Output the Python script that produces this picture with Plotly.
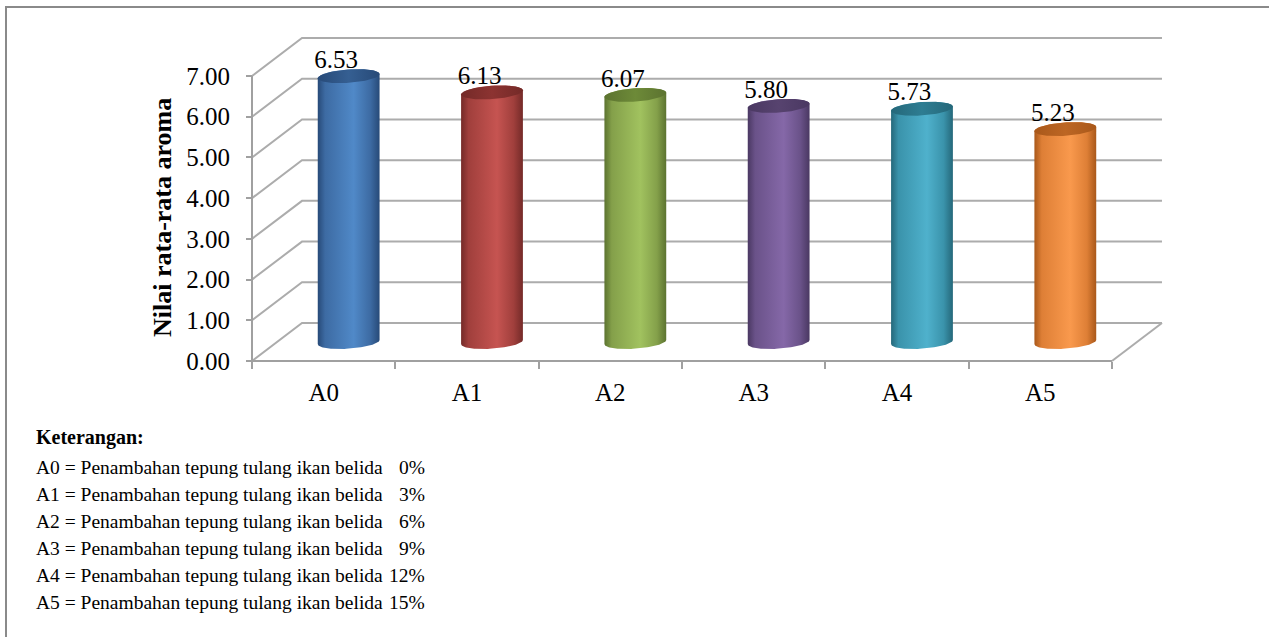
import numpy as np
import plotly.graph_objects as go

# ---- data -------------------------------------------------------------
categories = ["A0", "A1", "A2", "A3", "A4", "A5"]
aroma_means = [6.53, 6.13, 6.07, 5.80, 5.73, 5.23]
y_ticks = [0, 1, 2, 3, 4, 5, 6, 7]
additions = ["0%", "3%", "6%", "9%", "12%", "15%"]
note_text = "Penambahan tepung tulang ikan belida"
legend_title = "Keterangan:"
axis_title = "Nilai rata-rata aroma"

# cylinder shading per category: (edge, mid, highlight, cap)
palette = [
    ("#274a78", "#3d6ba3", "#5089c8", "#355f92"),
    ("#742a28", "#a03f3c", "#c65451", "#8c3331"),
    ("#5c7330", "#84a04a", "#a1c25f", "#6d8a38"),
    ("#4a3862", "#6a5289", "#8568a8", "#57436f"),
    ("#25687a", "#3a93ab", "#4fb1cc", "#2e7d92"),
    ("#a9581a", "#de7f36", "#f9994d", "#bc6624"),
]

FONT = "Liberation Serif, Times New Roman, serif"
GRID = "#acacac"

# ---- geometry of the oblique 3-D box (page pixels) ---------------------
W, H = 1269, 637
X0_PX, CAT_PX = 252.0, 143.33     # x = 0 on the front plane, width of one category
Y0_PX, UNIT_PX = 361.0, 40.71     # y = 0 on the front plane, pixels per unit
DEPTH_PX = (50.0, 38.0)           # shift from the front plane to the back wall

dx = DEPTH_PX[0] / CAT_PX
dy = DEPTH_PX[1] / UNIT_PX
n = len(categories)

x_range = [-X0_PX / CAT_PX, (W - X0_PX) / CAT_PX]
y_range = [-(H - Y0_PX) / UNIT_PX, Y0_PX / UNIT_PX]


def px(xp):
    return xp / W


def py(yp):
    return 1 - yp / H


fig = go.Figure()

# ---- walls and floor --------------------------------------------------
gx, gy = [], []
for t in y_ticks:
    gx += [0, dx, n + dx, None]
    gy += [t, t + dy, t + dy, None]
# right edge of the floor
gx += [n, n + dx, None]
gy += [0, dy, None]
fig.add_trace(go.Scatter(x=gx, y=gy, mode="lines", line=dict(color=GRID, width=2),
                         hoverinfo="skip", showlegend=False, cliponaxis=False))

# front axis lines
fig.add_trace(go.Scatter(x=[0, 0, None, 0, n], y=[y_ticks[-1], 0, None, 0, 0], mode="lines",
                         line=dict(color="#a0a0a0", width=2),
                         hoverinfo="skip", showlegend=False, cliponaxis=False))

# ---- cylinders --------------------------------------------------------
a = 29.5 / CAT_PX                 # half width
b = 9.2 / CAT_PX                  # depth shear of the end ellipses (x)
c = 7.0 / UNIT_PX                 # depth shear of the end ellipses (y)
th_max = np.arctan2(b, a)
th_min = th_max + np.pi


def ellipse(cx, cy, th):
    return cx + a * np.cos(th) + b * np.sin(th), cy + c * np.sin(th)


for i, (cat, v) in enumerate(zip(categories, aroma_means)):
    edge, mid, hi, cap = palette[i]
    cx = i + 0.5 + dx / 2
    base = dy / 2
    top = v + dy / 2

    front = np.linspace(th_min, th_max + 2 * np.pi, 60)
    back = np.linspace(th_max, th_min, 60)
    bx, by = ellipse(cx, base, front)
    tx, ty = ellipse(cx, top, back)
    fig.add_trace(go.Scatter(
        x=np.concatenate([bx, tx]), y=np.concatenate([by, ty]),
        mode="lines", fill="toself", line=dict(width=0),
        fillgradient=dict(type="horizontal",
                          colorscale=[[0, edge], [0.12, mid], [0.58, hi], [0.85, mid], [1, edge]]),
        hoverinfo="skip", showlegend=False, cliponaxis=False))

    full = np.linspace(0, 2 * np.pi, 90)
    kx, ky = ellipse(cx, top, full)
    fig.add_trace(go.Scatter(
        x=kx, y=ky, mode="lines", fill="toself", line=dict(width=0),
        fillgradient=dict(type="horizontal",
                          colorscale=[[0, edge], [0.5, cap], [1, edge]]),
        hoverinfo="skip", showlegend=False, cliponaxis=False))

# value labels above each cylinder
fig.add_trace(go.Scatter(
    x=[i + 0.5 + dx / 4 for i in range(n)],
    y=[v + dy / 2 + c - 5 / UNIT_PX for v in aroma_means],
    mode="text", text=[f"{v:.2f}" for v in aroma_means], textposition="top center",
    textfont=dict(family=FONT, size=25, color="black"),
    hoverinfo="skip", showlegend=False, cliponaxis=False))

# ---- annotations ------------------------------------------------------
annotations = [
    dict(x=px(162), y=py(218), xref="paper", yref="paper", text=f"<b>{axis_title}</b>",
         textangle=-90, showarrow=False, font=dict(family=FONT, size=26, color="black"),
         xanchor="center", yanchor="middle"),
    dict(x=px(34), y=py(438), xref="paper", yref="paper", text=f"<b>{legend_title}</b>",
         showarrow=False, font=dict(family=FONT, size=20, color="black"),
         xanchor="left", yanchor="middle"),
]
for k, (cat, pct) in enumerate(zip(categories, additions)):
    yy = py(467 + 27 * k)
    annotations.append(dict(x=px(34), y=yy, xref="paper", yref="paper",
                            text=f"{cat} = {note_text}", showarrow=False,
                            font=dict(family=FONT, size=19.5, color="black"),
                            xanchor="left", yanchor="middle"))
    annotations.append(dict(x=px(427), y=yy, xref="paper", yref="paper",
                            text=pct, showarrow=False,
                            font=dict(family=FONT, size=19.5, color="black"),
                            xanchor="right", yanchor="middle"))

fig.update_layout(
    template="none",
    width=W, height=H,
    margin=dict(l=0, r=0, t=0, b=0, pad=0),
    paper_bgcolor="white", plot_bgcolor="white",
    showlegend=False,
    xaxis=dict(range=x_range, anchor="free", position=(H - Y0_PX) / H,
               tickmode="array", tickvals=[i + 0.5 for i in range(n)], ticktext=categories,
               ticks="", showgrid=False, zeroline=False, showline=False, automargin=False,
               ticklabelstandoff=14,
               tickfont=dict(family=FONT, size=25, color="black"),
               minor=dict(tickmode="array", tickvals=list(range(n + 1)), ticks="outside",
                          ticklen=7, tickcolor="#a0a0a0", tickwidth=2, showgrid=False)),
    yaxis=dict(range=y_range, anchor="free", position=X0_PX / W,
               tickmode="array", tickvals=y_ticks, tickformat=".2f",
               ticks="outside", ticklen=6, tickcolor="#a0a0a0", tickwidth=2,
               ticklabelstandoff=11,
               showgrid=False, zeroline=False, showline=False, automargin=False,
               tickfont=dict(family=FONT, size=25, color="black")),
    annotations=annotations,
    shapes=[dict(type="rect", xref="paper", yref="paper",
                 x0=px(6), y0=py(7), x1=1.02, y1=-0.02,
                 line=dict(color="#8a8a8a", width=2), fillcolor="rgba(0,0,0,0)", layer="below")],
)

fig.write_html("out.html")
